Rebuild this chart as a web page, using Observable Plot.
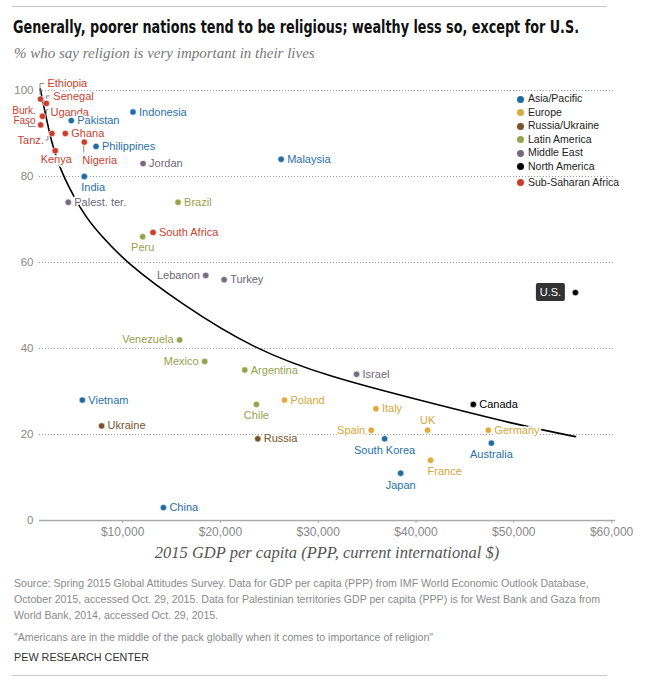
<!DOCTYPE html>
<html><head><meta charset="utf-8">
<script src="https://cdn.jsdelivr.net/npm/d3@7"></script>
<script src="https://cdn.jsdelivr.net/npm/@observablehq/plot@0.6"></script>
<style>
body{margin:0;background:#fff;}
#wrap{position:relative;width:649px;height:680px;font-family:"Liberation Sans",Arial,sans-serif;overflow:hidden;}
.rule{position:absolute;left:12px;width:595px;height:0;border-top:1px solid #c8c8c8;}
#title{position:absolute;left:13px;top:17px;font-family:"Liberation Sans Narrow","DejaVu Sans Condensed",sans-serif;font-weight:bold;font-size:17.5px;line-height:20px;color:#111;white-space:nowrap;transform-origin:0 50%;}
#subtitle{position:absolute;left:14px;top:44px;font-family:"Liberation Serif","DejaVu Serif",serif;font-style:italic;font-size:15px;line-height:18px;color:#777;white-space:nowrap;}
#chart{position:absolute;left:0;top:70px;}
#legend{position:absolute;left:517px;top:92px;font-size:10.5px;color:#222;}
#legend .row{height:13.6px;line-height:13.6px;white-space:nowrap;}
#legend .sw{display:inline-block;width:7px;height:7px;border-radius:50%;margin-right:4px;vertical-align:-0.5px;}
#xtitle{position:absolute;left:39px;width:576px;top:543px;text-align:center;font-family:"Liberation Serif","DejaVu Serif",serif;font-style:italic;font-size:16.5px;line-height:19px;color:#555;}
#source{position:absolute;left:14px;top:575px;width:600px;font-size:10.6px;line-height:16px;color:#8a8a8a;}
#quote{position:absolute;left:14px;top:629px;font-size:10.6px;line-height:16px;color:#8a8a8a;white-space:nowrap;}
#pew{position:absolute;left:14px;top:649px;font-size:10.8px;line-height:16px;color:#333;white-space:nowrap;}
</style></head><body>
<div id="wrap">
  <div class="rule" style="top:6px"></div>
  <div id="title">Generally, poorer nations tend to be religious; wealthy less so, except for U.S.</div>
  <div id="subtitle">% who say religion is very important in their lives</div>
  <div id="chart"></div>
  <div id="legend"></div>
  <div id="xtitle">2015 GDP per capita (PPP, current international $)</div>
  <div id="source">Source: Spring 2015 Global Attitudes Survey. Data for GDP per capita (PPP) from IMF World Economic Outlook Database, October 2015, accessed Oct. 29, 2015. Data for Palestinian territories GDP per capita (PPP) is for West Bank and Gaza from World Bank, 2014, accessed Oct. 29, 2015.</div>
  <div id="quote">"Americans are in the middle of the pack globally when it comes to importance of religion"</div>
  <div id="pew">PEW RESEARCH CENTER</div>
  <div class="rule" style="top:675px"></div>
</div>
<script>
// ---------- data ----------
const countries = ["Ethiopia","Senegal","Uganda","Burkina Faso","Tanzania","Ghana","Kenya","Nigeria","South Africa",
  "Indonesia","Pakistan","Philippines","India","Malaysia","Vietnam","China","South Korea","Japan","Australia",
  "Poland","Italy","Spain","UK","Germany","France",
  "Ukraine","Russia",
  "Brazil","Peru","Venezuela","Mexico","Argentina","Chile",
  "Jordan","Palestinian territories","Lebanon","Turkey","Israel",
  "Canada","U.S."];
const labels = ["Ethiopia","Senegal","Uganda","Burk.\nFaso","Tanz.","Ghana","Kenya","Nigeria","South Africa",
  "Indonesia","Pakistan","Philippines","India","Malaysia","Vietnam","China","South Korea","Japan","Australia",
  "Poland","Italy","Spain","UK","Germany","France",
  "Ukraine","Russia",
  "Brazil","Peru","Venezuela","Mexico","Argentina","Chile",
  "Jordan","Palest. ter.","Lebanon","Turkey","Israel",
  "Canada","U.S."];
const regions = ["Sub-Saharan Africa","Sub-Saharan Africa","Sub-Saharan Africa","Sub-Saharan Africa","Sub-Saharan Africa","Sub-Saharan Africa","Sub-Saharan Africa","Sub-Saharan Africa","Sub-Saharan Africa",
  "Asia/Pacific","Asia/Pacific","Asia/Pacific","Asia/Pacific","Asia/Pacific","Asia/Pacific","Asia/Pacific","Asia/Pacific","Asia/Pacific","Asia/Pacific",
  "Europe","Europe","Europe","Europe","Europe","Europe",
  "Russia/Ukraine","Russia/Ukraine",
  "Latin America","Latin America","Latin America","Latin America","Latin America","Latin America",
  "Middle East","Middle East","Middle East","Middle East","Middle East",
  "North America","North America"];
const gdpPerCapita = [1600,2200,1800,1620,2770,4140,3110,6080,13110,
  11060,4750,7280,6080,26210,5880,14170,36790,38430,47710,
  26550,35900,35420,41190,47400,41490,
  7850,23820,
  15670,12050,15830,18390,22490,23680,
  12090,4440,18500,20380,33920,
  45860,56300];
const veryImportant = [98,97,94,92,90,90,86,88,67,
  95,93,87,80,84,28,3,19,11,18,
  28,26,21,21,21,14,
  22,19,
  74,66,42,37,35,27,
  83,74,57,56,34,
  27,53];
const regionNames = ["Asia/Pacific","Europe","Russia/Ukraine","Latin America","Middle East","North America","Sub-Saharan Africa"];
const regionColors = ["#1f6ca3","#dcaa3e","#7a5128","#97a34c","#756a80","#000000","#cc3b2b"];
const regionTextColors = ["#2a70a6","#d6a53c","#7b5430","#95a24c","#6e6878","#000000","#c9412f"];
// trend curve
const trendGdp = [1580,2770,3900,6180,7720,10290,15900,23400,31300,40000,50200,56300];
const trendValue = [100.4,87,80,70.5,66.5,60.1,50.5,39.8,33.3,28.2,22.3,19.5];
const yTicks = [0,20,40,60,80,100];
const xTicks = [10000,20000,30000,40000,50000,60000];

// ---------- layout config for labels ----------
const R = {anchor:"start", dx:6, dy:0}, L = {anchor:"end", dx:-6, dy:0};
const B = {anchor:"middle", dx:0, dy:11}, A = {anchor:"middle", dx:0, dy:-10};
const placement = {
  "Ethiopia":{anchor:"start",dx:7,dy:-16}, "Senegal":{anchor:"start",dx:7,dy:-7}, "Uganda":{anchor:"start",dx:8,dy:-4},
  "Burkina Faso":{anchor:"end",dx:-5,dy:-9.5}, "Tanzania":{anchor:"end",dx:-8,dy:7}, "Kenya":{anchor:"middle",dx:1,dy:9},
  "Nigeria":{anchor:"start",dx:-2,dy:18}, "India":{anchor:"start",dx:-3,dy:11}, "Peru":B, "Chile":B, "UK":A,
  "South Korea":{anchor:"middle",dx:0,dy:12}, "Australia":B, "France":{anchor:"start",dx:-3,dy:11}, "Japan":{anchor:"middle",dx:0,dy:12},
  "Lebanon":L, "Venezuela":L, "Mexico":L, "Spain":L
};
const connectors = {
  "Ethiopia":[[0,-4],[0,-15],[4,-15]],
  "Senegal":[[0.5,-4],[0.5,-7],[4,-7]],
  "Uganda":[[4.5,-2],[4.5,-6],[6.5,-6]],
  "Burkina Faso":[[-11.7,-3],[-11.7,2],[-4.5,2]],
  "Tanzania":[[-6,7],[-3.5,7],[-3.5,3]],
  "Nigeria":[[0,4],[0,11]]
};

const data = countries.map((c,i)=>({country:c, label:labels[i], region:regions[i], gdp:gdpPerCapita[i], value:veryImportant[i]}));
const trend = trendGdp.map((g,i)=>({gdp:g, value:trendValue[i]}));
const colorOf = r => regionColors[regionNames.indexOf(r)];
const textColorOf = r => regionTextColors[regionNames.indexOf(r)];

const labelMarks = data.filter(d=>d.country!=="U.S.").map(d=>{
  const p = placement[d.country] || R;
  const small = d.country==="Burkina Faso";
  return Plot.text([d], {x:"gdp", y:"value", text:"label", textAnchor:p.anchor, dx:p.dx, dy:p.dy,
    fill:textColorOf(d.region), stroke:"white", strokeWidth:3.5, paintOrder:"stroke", strokeLinejoin:"round",
    fontSize: small ? 10 : 11, lineHeight: small ? 1.0 : 1});
});

const connectorMark = (index, scales) => {
  const g = d3.create("svg:g").attr("fill","none").attr("stroke","#8a8a8a").attr("stroke-width",1);
  for (const [name, pts] of Object.entries(connectors)) {
    const d = data.find(e=>e.country===name);
    const px = scales.x(d.gdp), py = scales.y(d.value);
    g.append("path").attr("d", d3.line()(pts.map(([a,b])=>[px+a, py+b])));
  }
  return g.node();
};
const usLabelMark = (index, scales) => {
  const d = data.find(e=>e.country==="U.S.");
  const px = scales.x(d.gdp), py = scales.y(d.value);
  const g = d3.create("svg:g");
  g.append("rect").attr("x", px-39).attr("y", py-9).attr("width",29).attr("height",18).attr("rx",2).attr("fill","#333");
  g.append("text").attr("x", px-24.5).attr("y", py).attr("dy","0.35em").attr("text-anchor","middle")
    .attr("fill","white").attr("font-size",11).attr("font-family",'"Liberation Sans",Arial,sans-serif').text(d.label);
  return g.node();
};

const chart = Plot.plot({
  width: 649, height: 470,
  marginLeft: 39, marginRight: 34, marginTop: 20, marginBottom: 20,
  style: {fontFamily:'"Liberation Sans", Arial, sans-serif', fontSize:"11px", color:"#888", background:"white", overflow:"visible"},
  x: {domain:[1500, 60400]},
  y: {domain:[0, 100]},
  marks: [
    Plot.ruleY(yTicks.filter(t=>t>0), {stroke:"#9a9a9a", strokeDasharray:"1,2", strokeWidth:1}),
    Plot.ruleY([0], {stroke:"#aaa", strokeWidth:1.3}),
    Plot.axisX(xTicks, {tickSize:3, tickPadding:4, stroke:"#aaa", fill:"#888", fontSize:12, label:null,
      tickFormat:d=>"$"+d3.format(",")(d)}),
    Plot.axisY(yTicks, {tickSize:0, tickPadding:6, fill:"#888", fontSize:11.5, label:null}),
    Plot.line(trend, {x:"gdp", y:"value", curve:"basis", stroke:"#000", strokeWidth:1.6}),
    ...labelMarks,
    connectorMark,
    usLabelMark,
    Plot.dot(data, {x:"gdp", y:"value", r:3.2, fill:d=>colorOf(d.region), stroke:"white", strokeWidth:0.6})
  ]
});
document.getElementById("chart").appendChild(chart);

const legend = d3.select("#legend");
regionNames.forEach((r,i)=>{
  const row = legend.append("div").attr("class","row");
  if (r==="Sub-Saharan Africa") row.style("margin-top","2px");
  row.append("span").attr("class","sw").style("background", regionColors[i]);
  row.append("span").text(r);
});

// fit title to the reference's width
const title = document.getElementById("title");
const tw = title.getBoundingClientRect().width;
if (tw > 566) title.style.transform = `scaleX(${566/tw})`;
</script>
</body></html>
